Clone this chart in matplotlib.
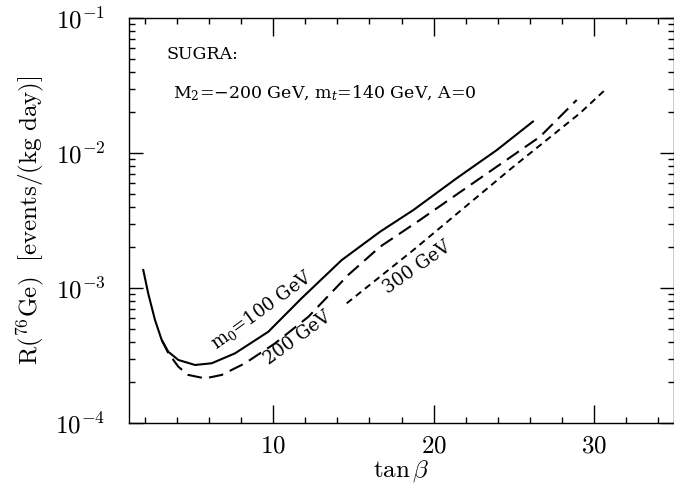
import matplotlib
matplotlib.use("Agg")
import matplotlib.pyplot as plt
from matplotlib.ticker import MultipleLocator, LogLocator, FixedLocator, NullFormatter

plt.rcParams["mathtext.fontset"] = "cm"
plt.rcParams["font.family"] = ["DejaVu Serif"]

# Detection rate curves for SUGRA neutralino dark matter on 76Ge
tanb_m100 = [1.89, 2.2, 2.62, 3.04, 3.45, 4.08, 5.12, 6.16, 7.61, 9.69, 11.77, 14.27, 16.66,
             18.74, 21.44, 23.94, 26.2]
rate_m100 = [1.36e-3, 9.1e-4, 5.8e-4, 4.12e-4, 3.37e-4, 2.93e-4, 2.69e-4, 2.77e-4, 3.28e-4,
             4.74e-4, 8.4e-4, 1.61e-3, 2.61e-3, 3.78e-3, 6.5e-3, 1.05e-2, 1.71e-2]

tanb_m200 = [3.04, 3.45, 4.08, 4.7, 5.74, 6.78, 8.24, 10.11, 12.19, 14.68, 16.66, 19.15, 22.9,
             26.64, 28.93]
rate_m200 = [4.12e-4, 3.3e-4, 2.61e-4, 2.27e-4, 2.14e-4, 2.27e-4, 2.77e-4, 3.89e-4, 6.12e-4,
             1.25e-3, 2.02e-3, 3.19e-3, 6.5e-3, 1.32e-2, 2.47e-2]

tanb_m300 = [14.58, 18.74, 21.86, 24.97, 29.13, 30.8]
rate_m300 = [7.7e-4, 1.91e-3, 3.89e-3, 7.9e-3, 1.97e-2, 3.01e-2]

fig = plt.figure(figsize=(6.74, 4.90), dpi=100)
ax = fig.add_axes([129 / 674, 1 - 423 / 490, 545 / 674, 405 / 490])

ax.plot(tanb_m100, rate_m100, color="black", lw=1.5, ls="-")
ax.plot(tanb_m200, rate_m200, color="black", lw=1.5, ls=(0, (7, 3.5)))
ax.plot(tanb_m300, rate_m300, color="black", lw=1.4, ls=(0, (3.5, 2.5)))

ax.set_yscale("log")
ax.set_xlim(1, 35)
ax.set_ylim(1e-4, 1e-1)

ax.xaxis.set_major_locator(FixedLocator([10, 20, 30]))
ax.xaxis.set_minor_locator(MultipleLocator(2))
ax.set_xticklabels([r"$10$", r"$20$", r"$30$"])
ax.yaxis.set_major_locator(FixedLocator([1e-4, 1e-3, 1e-2, 1e-1]))
ax.set_yticklabels([r"$10^{-4}$", r"$10^{-3}$", r"$10^{-2}$", r"$10^{-1}$"])
ax.yaxis.set_minor_locator(LogLocator(base=10, subs=range(2, 10)))
ax.yaxis.set_minor_formatter(NullFormatter())

ax.tick_params(which="both", direction="in", top=True, right=True, labelsize=18, width=1.0)
ax.tick_params(axis="x", which="major", length=13, pad=8)
ax.tick_params(axis="y", which="major", length=10, pad=17)
ax.tick_params(which="minor", length=4)
for s in ax.spines.values():
    s.set_linewidth(1.0)

ax.set_xlabel(r"$\tan\beta$", fontsize=18, labelpad=1)
ax.set_ylabel(r"$\mathrm{R(^{76}Ge)\ \ [events/(kg\ day)]}$", fontsize=18, labelpad=6)

note_kw = dict(transform=ax.transAxes, fontsize=12.5, ha="left", va="center",
               family="DejaVu Serif", math_fontfamily="dejavuserif")
ax.text(0.068, 0.91, "SUGRA:", **note_kw)
ax.text(0.081, 0.815, "M$_2$=\u2212200 GeV, m$_t$=140 GeV, A=0", **note_kw)

curve_kw = dict(fontsize=13, ha="center", va="center", rotation_mode="anchor",
                family="DejaVu Serif", math_fontfamily="dejavuserif")
ax.text(9.27, 6.9e-4, "m$_0$=100 GeV", rotation=36, **curve_kw)
ax.text(11.5, 4.25e-4, "200 GeV", rotation=36, **curve_kw)
ax.text(19.0, 1.42e-3, "300 GeV", rotation=35, **curve_kw)

fig.savefig("out.png", dpi=100)
